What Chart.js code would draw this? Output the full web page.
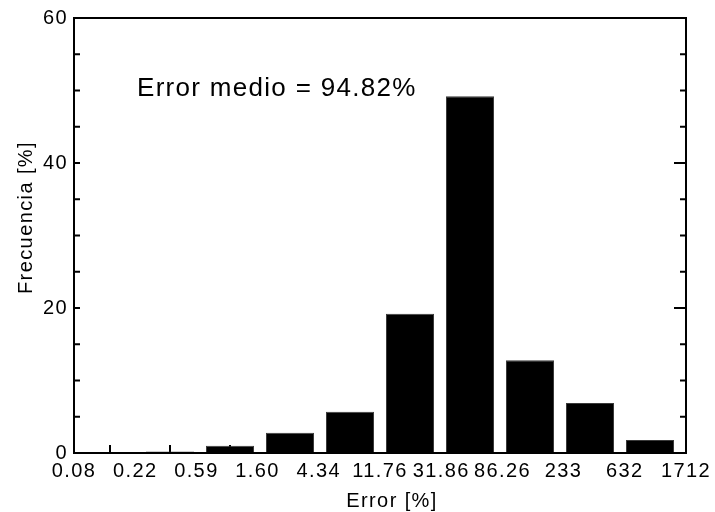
<!DOCTYPE html>
<html>
<head>
<meta charset="utf-8">
<script src="https://cdn.jsdelivr.net/npm/chart.js@4.4.1/dist/chart.umd.min.js"></script>
<style>
  body { margin: 0; background: #fff; }
  canvas { display: block; }
</style>
</head>
<body>
<canvas id="histChart" width="715" height="512"></canvas>
<script>
const binEdges = ['0.08', '0.22', '0.59', '1.60', '4.34', '11.76', '31.86', '86.26', '233', '632', '1712'];
const frequency = [0, 0.2, 1.0, 2.8, 5.7, 19.2, 49.2, 12.8, 6.9, 1.8];
const meanLabel = 'Error medio = 94.82%';
const xTitle = 'Error [%]';
const yTitle = 'Frecuencia [%]';

const FONT = '"Liberation Sans", Arial, sans-serif';
const SPACING = '1.4px';

Chart.defaults.color = '#000';
Chart.defaults.font.family = FONT;

// inward ticks, box frame and the text labels
const framePlugin = {
  id: 'frame',
  beforeDraw(chart) {
    chart.ctx.letterSpacing = SPACING;
  },
  beforeDatasetsDraw(chart) {
    const { ctx, chartArea: a, scales: { x } } = chart;
    ctx.save();
    ctx.strokeStyle = '#000';
    ctx.lineWidth = 2;
    ctx.beginPath();
    frequency.forEach((_, i) => {
      const px = x.getPixelForValue(i);
      ctx.moveTo(px, a.bottom);
      ctx.lineTo(px, a.bottom - 8);
    });
    ctx.stroke();
    ctx.restore();
  },
  afterDatasetsDraw(chart) {
    const { ctx, chartArea: a, scales: { x, y } } = chart;
    ctx.save();
    ctx.strokeStyle = '#000';
    ctx.lineWidth = 2;
    ctx.strokeRect(a.left, a.top, a.right - a.left, a.bottom - a.top);

    ctx.beginPath();
    y.ticks.forEach(t => {
      if (t.value <= y.min || t.value >= y.max) return;
      const py = y.getPixelForValue(t.value);
      const major = t.value % 20 === 0;
      ctx.moveTo(a.left, py);
      ctx.lineTo(a.left + 6, py);
      ctx.moveTo(a.right, py);
      ctx.lineTo(a.right - (major ? 12 : 6), py);
    });
    ctx.stroke();

    ctx.fillStyle = '#000';
    ctx.letterSpacing = '1.3px';
    ctx.font = '26px ' + FONT;
    ctx.textAlign = 'left';
    ctx.textBaseline = 'alphabetic';
    ctx.fillText(meanLabel, x.getPixelForValue(0.45), y.getPixelForValue(49.2));

    ctx.letterSpacing = SPACING;
    ctx.font = '20px ' + FONT;
    ctx.textAlign = 'center';
    ctx.fillText(xTitle, (a.left + a.right) / 2 + 12, 507);

    ctx.translate(31.5, (a.top + a.bottom) / 2 - 18);
    ctx.rotate(-Math.PI / 2);
    ctx.fillText(yTitle, 0, 0);
    ctx.restore();
  }
};

new Chart(document.getElementById('histChart'), {
  type: 'bar',
  data: {
    datasets: [{
      data: frequency.map((v, i) => ({ x: i, y: v })),
      backgroundColor: '#000',
      borderColor: '#3a3a3a',
      borderWidth: 1,
      barPercentage: 0.8,
      categoryPercentage: 1
    }]
  },
  options: {
    responsive: false,
    animation: false,
    layout: { padding: { top: 15, right: 29, left: 0, bottom: 0 } },
    plugins: {
      legend: { display: false },
      tooltip: { enabled: false }
    },
    scales: {
      x: {
        type: 'linear',
        offset: false,
        min: -0.6,
        max: 9.6,
        grid: { display: false, drawTicks: false, offset: false },
        border: { display: false },
        afterBuildTicks: s => {
          s.ticks = binEdges.map((_, k) => ({ value: -0.6 + 1.02 * k }));
        },
        afterFit: s => { s.height = 59; },
        ticks: {
          autoSkip: false,
          maxRotation: 0,
          padding: 6,
          font: { size: 20 },
          callback: (v, i) => binEdges[i]
        }
      },
      y: {
        min: 0,
        max: 60,
        grid: { display: false, drawTicks: false },
        border: { display: false },
        afterFit: s => { s.width = 74; },
        ticks: {
          stepSize: 5,
          padding: 6,
          font: { size: 20 },
          callback: v => (v % 20 === 0 ? v : '')
        }
      }
    }
  },
  plugins: [framePlugin]
});
</script>
</body>
</html>
